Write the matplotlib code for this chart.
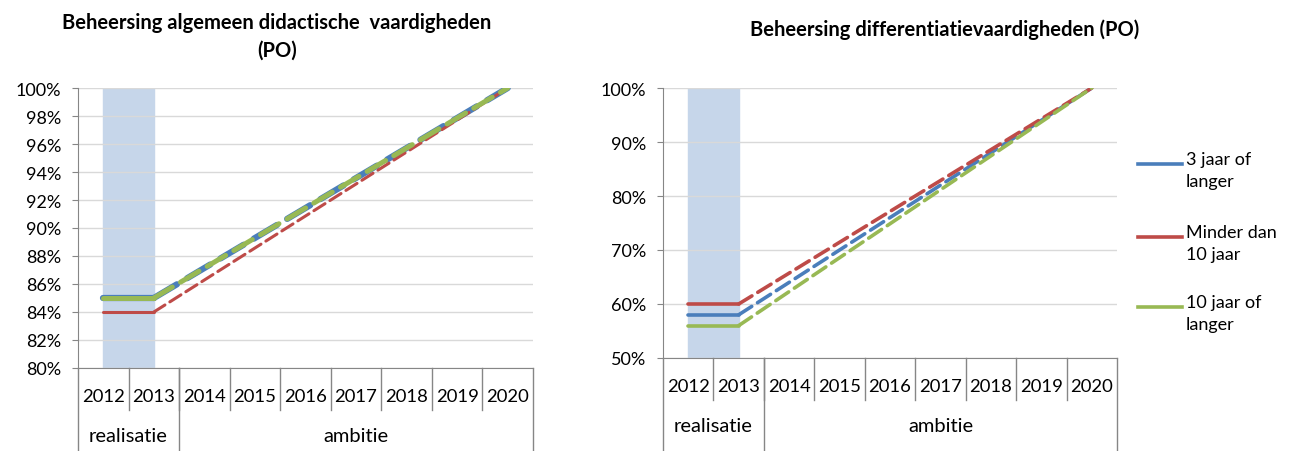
"""
Twee lijngrafieken: beheersing van vaardigheden (PO), realisatie 2012-2013
en ambitie tot 2020.
"""
import numpy as np
import matplotlib
matplotlib.use('Agg')
import matplotlib.pyplot as plt

plt.rcParams['font.family'] = ['Lato', 'DejaVu Sans']

years = ['2012', '2013', '2014', '2015', '2016', '2017', '2018', '2019', '2020']
groups = [('realisatie', 0, 1), ('ambitie', 2, 8)]
series_names = ['3 jaar of\nlanger', 'Minder dan\n10 jaar', '10 jaar of\nlanger']
nan = np.nan

# links: algemeen didactische vaardigheden (fracties)
didactisch_3jaar = [0.85, 0.85, nan, nan, nan, nan, nan, nan, 1.00]
didactisch_minder10 = [0.84, 0.84, nan, nan, nan, nan, nan, nan, 1.00]
didactisch_10jaar = [0.85, 0.85, nan, nan, nan, nan, nan, nan, 1.00]

# rechts: differentiatievaardigheden
differentiatie_3jaar = [0.58, 0.58, nan, nan, nan, nan, nan, nan, 1.00]
differentiatie_minder10 = [0.60, 0.60, nan, nan, nan, nan, nan, nan, 1.00]
differentiatie_10jaar = [0.56, 0.56, nan, nan, nan, nan, nan, nan, 1.00]

colors = ['#4a7ebb', '#be4b48', '#98b954']
grid_col = '#d9d9d9'
axis_col = '#868686'
W, H = 1293, 452


def draw_chart(ax, data, widths, ylim, ystep, ax_h_px):
    x = np.arange(len(years))
    ax.axvspan(0, 1, color='#c6d6ea', zorder=0)
    for vals, col, lw in zip(data, colors, widths):
        v = np.array(vals, dtype=float)
        # realisatie: doorgetrokken
        ax.plot(x[:2], v[:2], color=col, lw=lw, solid_capstyle='round', zorder=3)
        # ambitie: gestreept, vanaf laatste realisatie
        m = ~np.isnan(v)
        m[0] = False
        ax.plot(x[m], v[m], color=col, lw=lw, dashes=(4.3, 1.9),
                dash_capstyle='round', zorder=3)
    ax.set_xlim(-0.5, len(years) - 0.5)
    ax.set_ylim(*ylim)
    ticks = np.arange(ylim[0], ylim[1] + 1e-9, ystep)
    ax.set_yticks(ticks)
    ax.set_yticklabels(['%d%%' % round(t * 100) for t in ticks])
    ax.tick_params(axis='y', length=4.3, color=axis_col, labelsize=13, pad=8)
    ax.set_xticks([])
    ax.grid(axis='y', color=grid_col, lw=1)
    ax.set_axisbelow(True)
    for s in ['top', 'right']:
        ax.spines[s].set_visible(False)
    for s in ['left', 'bottom']:
        ax.spines[s].set_color(axis_col)

    # categorie-as met twee niveaus
    tr = ax.get_xaxis_transform()
    f = lambda px: -px / ax_h_px
    for i, yr in enumerate(years):
        ax.text(i, f(28), yr, transform=tr, ha='center', va='center', fontsize=13.3)
    for b in np.arange(0.5, len(years) - 1, 1.0):
        ax.plot([b, b], [0, f(42)], transform=tr, color=axis_col, lw=1, clip_on=False)
    edges = [-0.5]
    for name, a, b in groups:
        ax.text((a + b) / 2, f(68), name, transform=tr, ha='center', va='center', fontsize=14.5)
        edges.append(b + 0.5)
    for e in edges:
        ax.plot([e, e], [0, f(95)], transform=tr, color=axis_col, lw=1, clip_on=False)


fig = plt.figure(figsize=(W / 100, H / 100), dpi=100)

ax1 = fig.add_axes([78 / W, (H - 369) / H, (533 - 78) / W, (369 - 89) / H])
draw_chart(ax1, [didactisch_3jaar, didactisch_minder10, didactisch_10jaar],
           [4.5, 2.2, 3.6], (0.80, 1.00), 0.02, 280)
fig.text(277 / W, 1 - 37 / H, 'Beheersing algemeen didactische  vaardigheden\n(PO)',
         ha='center', va='center', fontsize=14.5, fontweight='bold', linespacing=1.45)

ax2 = fig.add_axes([663 / W, (H - 359) / H, (1117 - 663) / W, (359 - 89) / H])
draw_chart(ax2, [differentiatie_3jaar, differentiatie_minder10, differentiatie_10jaar],
           [2.6, 2.6, 2.6], (0.50, 1.00), 0.10, 270)
fig.text(945 / W, 1 - 30 / H, 'Beheersing differentiatievaardigheden (PO)',
         ha='center', va='center', fontsize=14.5, fontweight='bold')

# legenda: lijnstuk op hoogte van de eerste tekstregel
leg_y = [165, 238, 308]
for name, col, yp in zip(series_names, colors, leg_y):
    yf = 1 - yp / H
    fig.add_artist(plt.Line2D([1138 / W, 1182 / W], [yf, yf], color=col, lw=2.6,
                              transform=fig.transFigure))
    fig.text(1186 / W, 1 - (yp - 13) / H, name, ha='left', va='top',
             fontsize=13, linespacing=1.45)

fig.savefig('out.png', dpi=100)
